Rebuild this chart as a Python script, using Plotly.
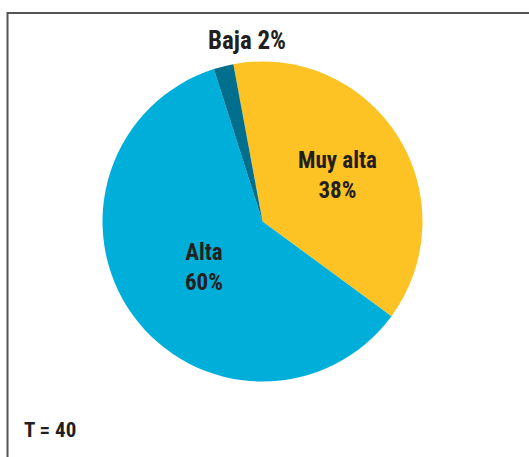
import plotly.graph_objects as go

W, H = 529, 457

labels = ["Muy alta", "Alta", "Baja"]
values = [38, 60, 2]
colors = ["#FDC223", "#00AEDA", "#006F8E"]
label_texts = ["Muy alta<br>38%", "Alta<br>60%", "Baja 2%"]
total_text = "T = 40"

FONT = "Roboto Condensed, Roboto, sans-serif"

cx, cy, r = 262.5, 221.5, 160

def px(x):
    return x / W

def py(y):
    return 1 - y / H

fig = go.Figure(go.Pie(
    labels=labels, values=values, sort=False, direction="clockwise",
    rotation=-10.5, marker=dict(colors=colors, line=dict(width=0)),
    textinfo="none", hoverinfo="label+percent", showlegend=False,
    domain=dict(x=[px(cx - r), px(cx + r)], y=[py(cy + r), py(cy - r)]),
))

label_pos = [(337, 176), (204, 267), (247, 41)]
label_sizes = [23, 23, 25]
for t, (x, y), s in zip(label_texts, label_pos, label_sizes):
    fig.add_annotation(x=px(x), y=py(y), xref="paper", yref="paper", text="<b>" + t + "</b>",
                       showarrow=False, font=dict(family=FONT, size=s, color="#231F20"),
                       xanchor="center", yanchor="middle")

fig.add_annotation(x=px(22), y=py(430), xref="paper", yref="paper", text="<b>" + total_text + "</b>",
                   showarrow=False, font=dict(family=FONT, size=21, color="#231F20"),
                   xanchor="left", yanchor="middle")

fig.add_shape(type="path", xref="paper", yref="paper",
              path=f"M {px(7.5)} 0 L {px(7.5)} {py(13)} L 1 {py(13)}",
              line=dict(color="#555555", width=2))

fig.update_layout(width=W, height=H, margin=dict(l=0, r=0, t=0, b=0),
                  paper_bgcolor="white", plot_bgcolor="white")

fig.write_html("out.html", config={"displayModeBar": False},
               post_script="document.body.style.margin='0';")
